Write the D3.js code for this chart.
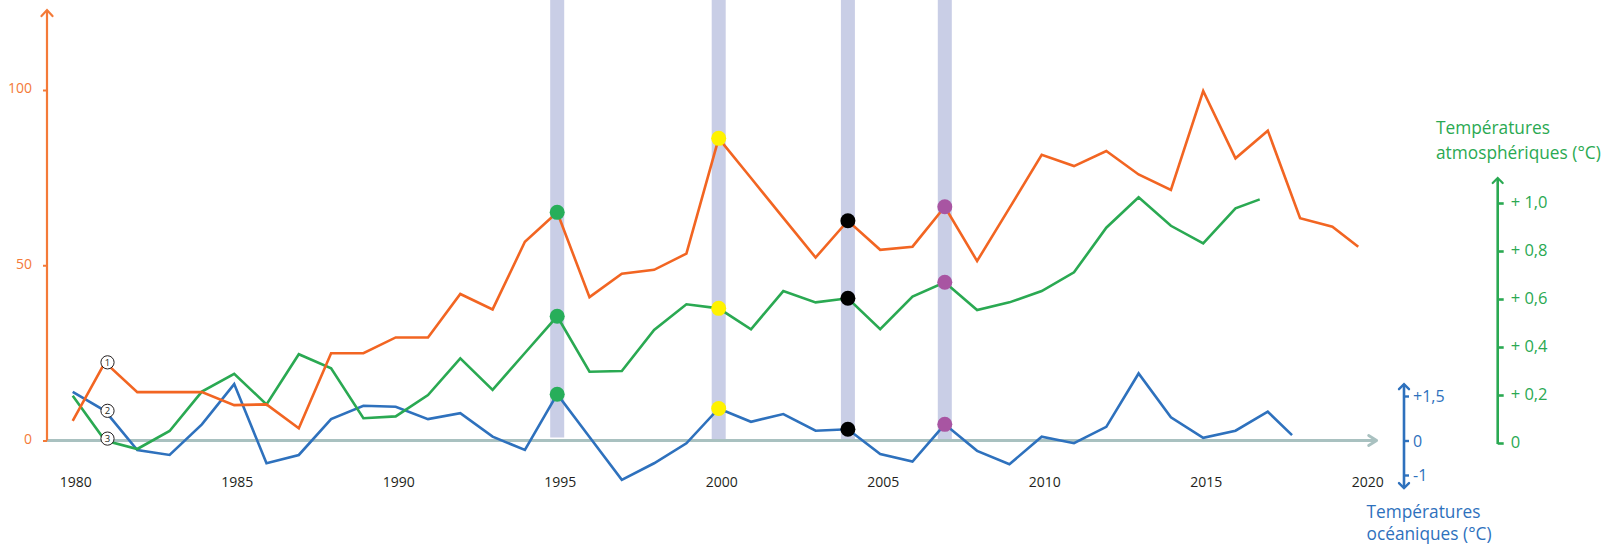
<!DOCTYPE html>
<html><head><meta charset="utf-8">
<script src="https://cdn.jsdelivr.net/npm/d3@7"></script>
<style>
html,body{margin:0;padding:0;background:#fff;}
text{font-family:"Open Sans",sans-serif;}
</style></head>
<body>
<svg id="c" width="1607" height="547"></svg>
<script>
// ---------- data ----------
// each series ends slightly before its last full year in the source drawing
const orangeYears = d3.range(1980, 2020).concat([2019.8]);
const orangeValues = [5.6,22.3,13.8,13.8,13.8,10.1,10.3,3.5,24.9,24.9,29.4,29.4,41.8,37.4,56.7,65.1,40.9,47.6,48.7,53.3,86.2,74.9,63.5,52.2,62.7,54.4,55.3,66.7,51.2,66.3,81.5,78.3,82.6,75.9,71.5,99.7,80.5,88.4,63.4,61,55.3];
const greenYears = d3.range(1980, 2017).concat([2016.75]);
const greenValues = [0.197,0.01,-0.025,0.05,0.214,0.288,0.161,0.37,0.311,0.103,0.111,0.2,0.353,0.221,0.375,0.528,0.297,0.3,0.471,0.578,0.561,0.474,0.633,0.586,0.603,0.474,0.61,0.67,0.554,0.586,0.633,0.711,0.897,1.024,0.905,0.832,0.978,1.015];
const blueYears = d3.range(1980, 2018).concat([2017.75]);
const blueValues = [1.64,1.0,-0.275,-0.42,0.545,1.9,-0.66,-0.42,0.72,1.17,1.14,0.72,0.92,0.13,-0.275,1.56,0.12,-1.14,-0.66,-0.08,1.08,0.63,0.89,0.33,0.38,-0.39,-0.61,0.545,-0.3,-0.69,0.13,-0.08,0.46,2.26,0.78,0.09,0.33,0.97,0.18];
const bandYears = [1995, 2000, 2004, 2007];
const bandColors = ["#27ae5a", "#fff200", "#000000", "#a855a2"];
const xTickYears = [1980,1985,1990,1995,2000,2005,2010,2015,2020];
const orangeTicks = [0, 50, 100];
const greenTicks = [0, 0.2, 0.4, 0.6, 0.8, 1.0];
const blueTicks = [-1, 0, 1.5];
const blueTickLabels = ["-1", "0", "+1,5"];
const greenTitle = ["Températures", "atmosphériques (°C)"];
const blueTitle = ["Températures", "océaniques (°C)"];
const annotations = [{n:"1", s:"o"}, {n:"2", s:"b"}, {n:"3", s:"g"}];
const annotationYear = 1981;

// ---------- colours ----------
const C = {o:"#f26522", oAxis:"#f47a38", g:"#2aa952", b:"#2e71bd", band:"#c9cee6", base:"#a9c1c0", text:"#231f20"};

// ---------- scales ----------
const x = d3.scaleLinear().domain([1980, 2020]).range([72.7, 1364.7]);
const yO = d3.scaleLinear().domain([0, 100]).range([440.5, 90]);
const yG = d3.scaleLinear().domain([0, 1]).range([443, 203]);
const yB = d3.scaleLinear().domain([-1, 0, 1.5]).range([475, 440.5, 396]);

const svg = d3.select("#c");

// ---------- bands ----------
svg.append("g").selectAll("rect").data(bandYears).join("rect")
  .attr("x", d => x(d) - 7).attr("width", 14)
  .attr("y", 0).attr("height", (d,i) => i === 0 ? 437.5 : 440)
  .attr("fill", C.band);

// ---------- baseline (time axis) with arrow ----------
const baseG = svg.append("g").attr("stroke", C.base).attr("stroke-width", 2.8).attr("fill", "none");
baseG.append("line").attr("x1", 47).attr("x2", x(2020.37)).attr("y1", yO(0)).attr("y2", yO(0));
baseG.append("path").attr("stroke-linecap","round").attr("stroke-linejoin","round")
  .attr("d", `M${x(2020.37)-8},${yO(0)-5}L${x(2020.37)},${yO(0)}L${x(2020.37)-8},${yO(0)+5}`);

// year labels
svg.append("g").selectAll("text").data(xTickYears).join("text")
  .attr("x", d => x(d) + 3).attr("y", 487)
  .attr("text-anchor", "middle").attr("font-size", 14).attr("fill", C.text)
  .text(d => d);

// ---------- orange (left) axis ----------
const oAx = svg.append("g").attr("transform", "translate(47,0)")
  .call(d3.axisLeft(yO).tickValues(orangeTicks).tickSize(4).tickPadding(11).tickFormat(d3.format("d")));
oAx.select(".domain").remove();
oAx.selectAll("line").attr("stroke", C.oAxis).attr("stroke-width", 2);
oAx.selectAll("text").attr("fill", C.oAxis).attr("font-size", 14).attr("font-family", "Open Sans").attr("dy", "0.2em");
const oTop = yO(122.8);
svg.append("line").attr("x1", 47).attr("x2", 47).attr("y1", yO(0)).attr("y2", oTop)
  .attr("stroke", C.oAxis).attr("stroke-width", 2.2);
svg.append("path").attr("d", `M${47-5.5},${oTop+6}L47,${oTop}L${47+5.5},${oTop+6}`)
  .attr("fill","none").attr("stroke", C.oAxis).attr("stroke-width", 2.2).attr("stroke-linecap","round");

// ---------- green (right) axis ----------
const gX = 1497.7;
const gAx = svg.append("g").attr("transform", `translate(${gX},0)`)
  .call(d3.axisRight(yG).tickValues(greenTicks).tickSize(6).tickPadding(7)
    .tickFormat(d => d === 0 ? "0" : "+ " + d3.format(".1f")(d).replace(".", ",")));
gAx.select(".domain").remove();
gAx.selectAll("line").attr("stroke", C.g).attr("stroke-width", 2.6);
gAx.selectAll("text").attr("fill", C.g).attr("font-size", 16.5).attr("font-family", "Open Sans").attr("dy", "0.3em");
const gTop = yG(1.104);
svg.append("line").attr("x1", gX).attr("x2", gX).attr("y1", yG(0) + 1).attr("y2", gTop)
  .attr("stroke", C.g).attr("stroke-width", 2.6);
svg.append("path").attr("d", `M${gX-5},${gTop+5}L${gX},${gTop}L${gX+5},${gTop+5}`)
  .attr("fill","none").attr("stroke", C.g).attr("stroke-width", 2.2).attr("stroke-linecap","round");
svg.append("g").selectAll("text").data(greenTitle).join("text")
  .attr("x", 1436).attr("y", (d,i) => 134 + i * 24.5)
  .attr("font-size", 17.3).attr("fill", C.g).text(d => d);

// ---------- blue (right) axis ----------
const bX = 1404;
const bAx = svg.append("g").attr("transform", `translate(${bX},0)`)
  .call(d3.axisRight(yB).tickValues(blueTicks).tickSize(5).tickPadding(4)
    .tickFormat((d,i) => blueTickLabels[i]));
bAx.select(".domain").remove();
bAx.selectAll("line").attr("stroke", C.b).attr("stroke-width", 2.4);
bAx.selectAll("text").attr("fill", C.b).attr("font-size", 16).attr("font-family", "Open Sans").attr("dy", "0.35em");
const bTop = yB(1.9), bBot = yB(-1.38);
svg.append("line").attr("x1", bX).attr("x2", bX).attr("y1", bBot).attr("y2", bTop)
  .attr("stroke", C.b).attr("stroke-width", 2.6);
svg.append("path").attr("d", `M${bX-5},${bTop+5}L${bX},${bTop}L${bX+5},${bTop+5}M${bX-5},${bBot-5}L${bX},${bBot}L${bX+5},${bBot-5}`)
  .attr("fill","none").attr("stroke", C.b).attr("stroke-width", 2.4).attr("stroke-linecap","round");
svg.append("g").selectAll("text").data(blueTitle).join("text")
  .attr("x", 1366.5).attr("y", (d,i) => 518 + i * 22)
  .attr("font-size", 17.3).attr("fill", C.b).text(d => d);

// ---------- lines ----------
function drawLine(years, values, ys, color) {
  const line = d3.line().x((d,i) => x(years[i])).y(d => ys(d));
  svg.append("path").datum(values).attr("d", line)
    .attr("fill", "none").attr("stroke", color).attr("stroke-width", 2.6)
    .attr("stroke-linejoin", "miter");
}
drawLine(blueYears, blueValues, yB, C.b);
drawLine(greenYears, greenValues, yG, C.g);
drawLine(orangeYears, orangeValues, yO, C.o);

// ---------- markers at highlighted years ----------
const series = [
  {years: orangeYears, values: orangeValues, ys: yO},
  {years: greenYears, values: greenValues, ys: yG},
  {years: blueYears, values: blueValues, ys: yB}
];
bandYears.forEach((yr, bi) => {
  series.forEach(s => {
    const idx = s.years.indexOf(yr);
    svg.append("circle").attr("cx", x(yr)).attr("cy", s.ys(s.values[idx]))
      .attr("r", 7.5).attr("fill", bandColors[bi]);
  });
});

// ---------- numbered annotations ----------
const annoMap = {
  o: {years: orangeYears, values: orangeValues, ys: yO},
  b: {years: blueYears, values: blueValues, ys: yB},
  g: {years: greenYears, values: greenValues, ys: yG}
};
annotations.forEach(a => {
  const s = annoMap[a.s];
  const idx = s.years.indexOf(annotationYear);
  let cy = s.ys(s.values[idx]);
  const cx = x(annotationYear) + 2.5;
  if (a.s === "g") cy = cy - 2;
  const g = svg.append("g");
  g.append("circle").attr("cx", cx).attr("cy", cy).attr("r", 6.6)
    .attr("fill", "#fff").attr("stroke", "#231f20").attr("stroke-width", 1);
  g.append("text").attr("x", cx).attr("y", cy).attr("dy", "0.36em")
    .attr("text-anchor", "middle").attr("font-size", 9.5).attr("fill", "#231f20").text(a.n);
});
</script>
</body></html>
